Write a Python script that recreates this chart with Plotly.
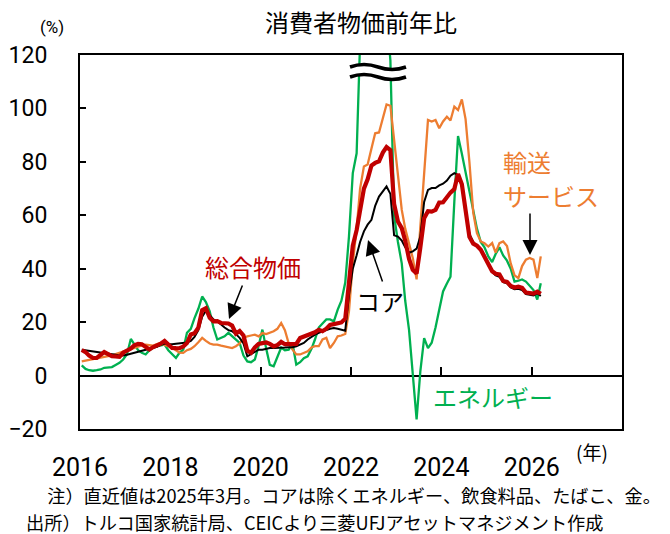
import pandas as pd
import plotly.graph_objects as go

# ---------------- data (monthly, Jan 2016 - Mar 2026) ----------------
headline = [
    9.58, 8.78, 7.46, 6.57, 6.58, 7.64, 8.79, 8.05, 7.28, 7.16, 7.00, 8.53,
    9.22, 10.13, 11.29, 11.87, 11.72, 10.90, 9.79, 10.68, 11.20, 11.90, 12.98, 11.92,
    10.35, 10.26, 10.23, 10.85, 12.15, 15.39, 15.85, 17.90, 24.52, 25.24, 21.62, 20.30,
    20.35, 19.67, 19.71, 19.50, 18.71, 15.72, 16.65, 15.01, 9.26, 8.55, 10.56, 11.84,
    12.15, 12.37, 11.86, 10.94, 11.39, 12.62, 11.76, 11.77, 11.75, 11.89, 14.03, 14.60,
    14.97, 15.61, 16.19, 17.14, 16.59, 17.53, 18.95, 19.25, 19.58, 19.89, 21.31, 36.08,
    48.69, 54.44, 61.14, 69.97, 73.50, 78.62, 79.60, 80.21, 83.45, 85.51, 84.39, 64.27,
    57.68, 55.18, 50.51, 43.68, 39.59, 38.21, 47.83, 58.94, 61.53, 61.36, 61.98, 64.77,
    64.86, 67.07, 68.50, 69.80, 75.45, 71.60, 61.78, 51.97, 49.38, 48.58, 47.09, 44.38,
    42.12, 39.05, 38.10, 37.86, 35.41, 35.05, 33.52, 32.95, 33.29, 32.87, 31.07, 30.89,
    30.65, 31.40, 30.60,
]

core = [
    9.7, 9.5, 9.3, 9.0, 8.8, 8.6, 8.6, 8.3, 8.0, 7.8, 7.5, 7.5,
    7.8, 8.2, 8.6, 9.0, 9.3, 9.6, 10.0, 10.3, 10.8, 11.5, 12.0, 11.8,
    11.7, 11.9, 12.0, 12.2, 12.4, 13.0, 14.5, 17.0, 22.0, 24.3, 22.5, 21.0,
    20.3, 19.0, 18.0, 17.0, 16.6, 15.5, 14.1, 12.0, 7.2, 8.0, 9.0, 9.7,
    9.7, 10.0, 10.3, 10.3, 10.3, 10.5, 10.5, 10.6, 10.6, 11.0, 11.5, 12.2,
    13.5, 14.5, 15.3, 16.0, 16.6, 17.0, 17.5, 17.8, 17.5, 17.2, 16.8, 30.0,
    40.0, 45.0, 50.0, 54.0, 56.5, 58.3, 63.5, 67.0, 69.0, 70.8, 68.0, 52.5,
    52.0, 50.5, 48.0, 46.0, 46.5, 47.5, 52.0, 65.0, 69.5, 70.2, 70.2, 71.2,
    71.8, 73.0, 74.8, 75.8, 75.1, 71.0, 62.0, 53.0, 50.0, 48.3, 47.0, 45.0,
    41.8, 38.8, 37.5, 37.0, 35.0, 34.5, 33.0, 32.3, 32.5, 32.0, 30.5, 30.3,
    30.0, 30.8, 29.8,
]

energy = [
    3.8, 2.5, 2.0, 1.8, 2.0, 2.3, 2.9, 3.0, 3.2, 4.0, 4.8, 6.0,
    8.0, 13.7, 11.5, 9.5, 8.5, 7.9, 9.5, 10.5, 11.0, 11.3, 11.6, 9.5,
    8.0, 6.6, 8.5, 9.7, 16.0, 17.5, 21.5, 25.0, 29.6, 27.5, 24.0, 18.0,
    13.5, 14.2, 14.7, 16.0, 14.8, 13.5, 12.2, 7.5, 5.3, 5.0, 6.0, 11.0,
    17.2, 10.0, 4.0, 3.5, 7.0, 10.5, 9.5, 9.7, 12.0, 4.1, 5.0, 6.5,
    7.2, 10.0, 13.5, 18.0, 19.5, 21.0, 21.0, 20.3, 24.7, 28.0, 34.8, 52.0,
    75.8, 83.2, 125.0, 135.0, 140.0, 145.0, 150.0, 150.0, 145.0, 135.0, 118.0, 60.0,
    50.0, 42.0, 28.0, 17.0, 1.0, -16.4, 1.5, 14.0, 10.3, 12.3, 18.0, 25.0,
    31.5, 34.5, 37.0, 65.0, 89.7, 83.0, 76.0, 68.0, 62.0, 55.0, 50.0, 48.0,
    44.6, 42.5, 45.5, 48.0, 45.0, 43.0, 40.0, 35.2, 35.5, 36.0, 35.2, 33.5,
    32.0, 28.5, 34.6,
]

transport = [
    5.3, 5.6, 5.9, 6.2, 6.4, 6.6, 6.8, 7.2, 7.6, 8.0, 8.5, 9.0,
    9.5, 10.0, 10.4, 10.8, 11.3, 11.6, 11.4, 11.2, 11.8, 12.2, 11.5, 11.0,
    10.5, 9.5, 8.6, 8.5, 9.5, 10.0, 11.0, 12.5, 14.1, 13.0, 12.0, 11.6,
    11.6, 11.2, 11.0, 10.6, 10.3, 11.0, 12.0, 14.0, 14.7, 15.0, 15.3, 14.7,
    15.9, 15.5, 15.9, 16.6, 17.5, 19.7, 17.0, 12.0, 9.7, 7.9, 7.9, 8.5,
    9.1, 10.5, 11.0, 11.0, 13.5, 14.1, 10.3, 12.2, 14.7, 15.0, 15.6, 24.0,
    42.0, 55.0, 70.0, 78.3, 79.0, 85.0, 90.7, 91.0, 96.0, 101.5, 101.0, 88.0,
    74.0, 62.0, 55.0, 49.0, 44.0, 36.0, 55.0, 78.0, 95.7, 95.1, 95.7, 92.6,
    95.1, 96.9, 95.5, 100.7, 99.4, 103.4, 96.0, 80.0, 61.0, 53.3, 50.2, 49.5,
    48.3, 49.6, 46.0, 49.6, 50.2, 48.5, 42.0, 37.5, 36.5, 41.0, 43.4, 44.0,
    43.4, 36.5, 44.6,
]

months = pd.date_range("2016-01-01", periods=len(headline), freq="MS") + pd.Timedelta(days=14)

year_ticks = ["2016-01-01", "2018-01-01", "2020-01-01", "2022-01-01", "2024-01-01", "2026-01-01"]
year_labels = ["2016", "2018", "2020", "2022", "2024", "2026"]
x_range = ["2016-01-01", "2028-01-01"]
y_range = [-20, 120]

# ---------------- layout helpers (pixel -> paper) ----------------
W, H = 670, 534
L, R, T, B = 80, 622, 55, 429


def px(x):
    return (x - L) / (R - L)


def py(y):
    return (B - y) / (B - T)


JP = "Noto Sans CJK JP"
NUM = "Roboto"

fig = go.Figure()
fig.add_trace(go.Scatter(x=months, y=energy, mode="lines", name="エネルギー",
                         line=dict(color="#00B050", width=2.3)))
fig.add_trace(go.Scatter(x=months, y=transport, mode="lines", name="輸送サービス",
                         line=dict(color="#ED7D31", width=2.3)))
fig.add_trace(go.Scatter(x=months, y=core, mode="lines", name="コア",
                         line=dict(color="#000000", width=2)))
fig.add_trace(go.Scatter(x=months, y=headline, mode="lines", name="総合物価",
                         line=dict(color="#C00000", width=4.2)))
# helper trace so that the tick-only axis at y=0 is rendered
fig.add_trace(go.Scatter(x=[months[0]], y=[None], xaxis="x2", yaxis="y",
                         mode="lines", showlegend=False, hoverinfo="skip"))

fig.update_layout(
    width=W, height=H,
    margin=dict(l=L, r=W - R, t=T, b=H - B, autoexpand=False),
    paper_bgcolor="white", plot_bgcolor="white",
    showlegend=False,
    xaxis=dict(
        type="date", range=x_range, tickvals=year_ticks, ticktext=year_labels,
        ticks="", showline=True, linecolor="black", linewidth=2, mirror=True,
        showgrid=False, zeroline=False, automargin=False,
        tickfont=dict(family=NUM, size=25, color="black"),
        ticklabelstandoff=15,
    ),
    xaxis2=dict(
        type="date", range=x_range, overlaying="x", anchor="free",
        position=(0 - y_range[0]) / (y_range[1] - y_range[0]),
        tickvals=year_ticks[1:], ticks="inside", ticklen=9, tickwidth=1.5,
        tickcolor="black", showticklabels=False, showline=False,
        showgrid=False, zeroline=False,
    ),
    yaxis=dict(
        range=y_range, tick0=0, dtick=20, ticks="inside", ticklen=6,
        tickwidth=1.5, tickcolor="black", automargin=False,
        showline=True, linecolor="black", linewidth=2, mirror=True,
        showgrid=False, zeroline=True, zerolinecolor="black", zerolinewidth=2,
        tickfont=dict(family=NUM, size=23, color="black"),
        ticklabelstandoff=26,
    ),
)

# ---------------- axis break mark (≈) ----------------
def wave(y):
    return (f"M {px(350)},{py(y)} Q {px(364)},{py(y - 5)} {px(378)},{py(y)} "
            f"T {px(406)},{py(y)}")


fig.add_shape(type="path", xref="paper", yref="paper", path=wave(72),
              line=dict(color="white", width=9), layer="above")
fig.add_shape(type="path", xref="paper", yref="paper", path=wave(67),
              line=dict(color="black", width=3.5), layer="above")
fig.add_shape(type="path", xref="paper", yref="paper", path=wave(77),
              line=dict(color="black", width=3.5), layer="above")

# ---------------- texts ----------------
def text(x, y, s, size, color="black", xanchor="center", family=JP):
    fig.add_annotation(x=px(x), y=py(y), xref="paper", yref="paper", text=s,
                       showarrow=False, xanchor=xanchor, yanchor="middle",
                       font=dict(family=family, size=size, color=color))


text(361, 21, "消費者物価前年比", 24)
text(52, 27, "(%)", 17, family=NUM)
text(592, 451, "(年)", 19)
text(253, 266, "総合物価", 24, color="#C00000")
text(380, 300, "コア", 24)
text(501, 161, "輸送", 24, color="#ED7D31", xanchor="left")
text(501, 196, "サービス", 24, color="#ED7D31", xanchor="left")
text(493, 396, "エネルギー", 24, color="#00B050")
text(27, 495, "\u3000注）直近値は2025年3月。コアは除くエネルギー、飲食料品、たばこ、金。", 18.2,
     xanchor="left")
text(24, 522, "出所）トルコ国家統計局、CEICより三菱UFJアセットマネジメント作成", 18.2,
     xanchor="left")


# ---------------- arrows ----------------
def arrow(tail, head):
    fig.add_annotation(x=px(head[0]), y=py(head[1]), xref="paper", yref="paper",
                       ax=tail[0] - head[0], ay=tail[1] - head[1],
                       axref="pixel", ayref="pixel", text="", showarrow=True,
                       arrowhead=2, arrowsize=2, arrowwidth=1.5, arrowcolor="black")


arrow((243, 284), (229, 319))
arrow((383, 283), (368, 240))
arrow((530, 212), (530, 255))

fig.write_html("out.html", config={"displayModeBar": False},
               post_script="document.body.style.margin='0';")
